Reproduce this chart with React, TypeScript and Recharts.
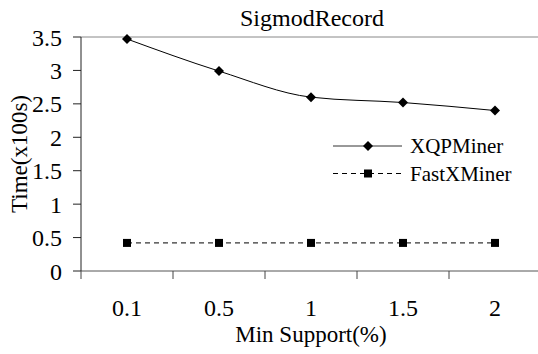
import React from "react";
import {
  LineChart,
  Line,
  XAxis,
  YAxis,
  ReferenceLine,
  Legend,
} from "recharts";

const supports = ["0.1", "0.5", "1", "1.5", "2"];
const xqpMiner = [3.47, 2.99, 2.6, 2.52, 2.4];
const fastXMiner = [0.42, 0.42, 0.42, 0.42, 0.42];
const yTicks = [0, 0.5, 1, 1.5, 2, 2.5, 3, 3.5];

const data = supports.map((s, i) => ({
  support: s,
  XQPMiner: xqpMiner[i],
  FastXMiner: fastXMiner[i],
}));

const font = "Liberation Serif, Times New Roman, serif";
const TICK_SIZE = 8;
const TICK_MARGIN = 20;

const Diamond = (props: any) => {
  const { cx, cy } = props;
  if (cx == null || cy == null) return null;
  return (
    <path
      d={`M${cx},${cy - 5} L${cx + 5},${cy} L${cx},${cy + 5} L${cx - 5},${cy} Z`}
      fill="#000"
    />
  );
};

const Square = (props: any) => {
  const { cx, cy } = props;
  if (cx == null || cy == null) return null;
  return <rect x={cx - 4} y={cy - 4} width={8} height={8} fill="#000" />;
};

// category label at band centre, tick marks on band edges (excel style)
const XTick = (props: any) => {
  const { x, y, payload, index, visibleTicksCount } = props;
  const half = payload?.offset ?? 0;
  const y1 = y - TICK_MARGIN;
  const y0 = y1 - TICK_SIZE;
  return (
    <g>
      <line x1={x - half} y1={y0} x2={x - half} y2={y1} stroke="#444" />
      {index === visibleTicksCount - 1 && (
        <line x1={x + half} y1={y0} x2={x + half} y2={y1} stroke="#444" />
      )}
      <text
        x={x}
        y={y}
        dy="0.71em"
        textAnchor="middle"
        fill="#000"
        style={{ fontSize: 24, fontFamily: font }}
      >
        {payload.value}
      </text>
    </g>
  );
};

const LegendBox = () => (
  <svg width={200} height={60} style={{ overflow: "visible" }}>
    <line x1={0} y1={10} x2={69} y2={10} stroke="#333" strokeWidth={1} />
    <Diamond cx={35} cy={10} />
    <text x={77} y={10} dominantBaseline="central" style={{ fontSize: 21, fontFamily: font }}>
      XQPMiner
    </text>
    <line x1={0} y1={37.5} x2={69} y2={37.5} stroke="#000" strokeDasharray="5 4" />
    <Square cx={35} cy={37.5} />
    <text x={77} y={37.5} dominantBaseline="central" style={{ fontSize: 21, fontFamily: font }}>
      FastXMiner
    </text>
  </svg>
);

export default function App() {
  return (
    <div style={{ position: "absolute", left: 0, top: 0, background: "#fff", fontFamily: font }}>
      <LineChart
        width={538}
        height={354}
        data={data}
        margin={{ top: 37, right: -3, bottom: 0, left: 0 }}
        style={{ fontFamily: font }}
      >
        <text x={312} y={26} textAnchor="middle" style={{ fontSize: 24, fontFamily: font }}>
          SigmodRecord
        </text>
        <XAxis
          dataKey="support"
          scale="band"
          height={83}
          tickLine={false}
          tickSize={TICK_SIZE}
          tickMargin={TICK_MARGIN}
          stroke="#555"
          tick={<XTick />}
          label={{
            value: "Min Support(%)",
            position: "insideBottom",
            offset: 12,
            style: { fill: "#000", fontSize: 23, fontFamily: font },
          }}
        />
        <YAxis
          width={81}
          domain={[0, 3.5]}
          ticks={yTicks}
          interval={0}
          tickSize={8}
          tickMargin={11}
          stroke="#222"
          tick={{ fill: "#000", fontSize: 24, style: { fontFamily: font } }}
          label={{
            value: "Time(x100s)",
            angle: -90,
            position: "insideLeft",
            offset: 19,
            style: { fill: "#000", fontSize: 23, fontFamily: font, textAnchor: "middle" },
          }}
        />
        <ReferenceLine y={3.5} stroke="#888" strokeWidth={1} />
        <Legend
          layout="horizontal"
          verticalAlign="middle"
          align="center"
          wrapperStyle={{ left: 333, top: 136, width: 200 }}
          content={() => <LegendBox />}
        />
        <Line
          type="monotone"
          dataKey="XQPMiner"
          stroke="#000"
          strokeWidth={1}
          dot={<Diamond />}
          isAnimationActive={false}
        />
        <Line
          type="linear"
          dataKey="FastXMiner"
          stroke="#000"
          strokeWidth={1}
          strokeDasharray="5 4"
          dot={<Square />}
          isAnimationActive={false}
        />
      </LineChart>
    </div>
  );
}
